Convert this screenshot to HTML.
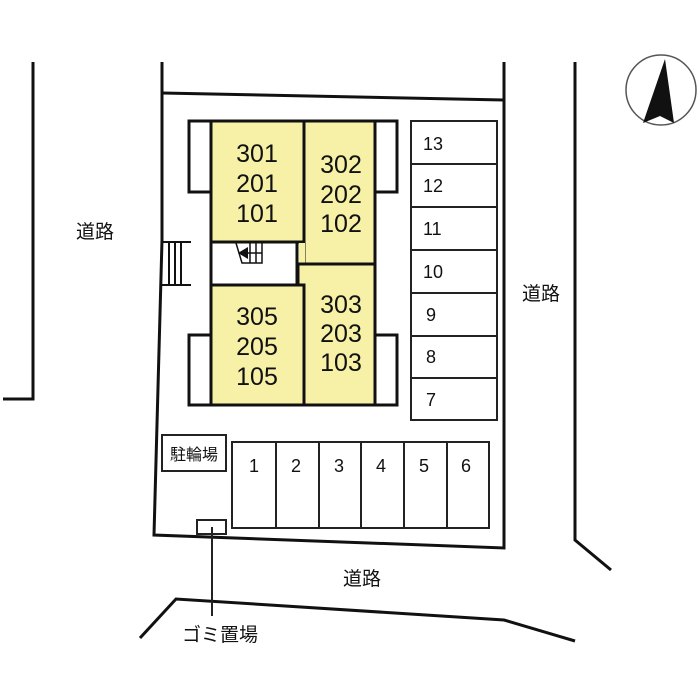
<!DOCTYPE html>
<html><head><meta charset="utf-8"><style>
html,body{margin:0;padding:0;background:#fff;}
svg{display:block;}
text{font-family:"Liberation Sans","Noto Sans CJK JP",sans-serif;fill:#111;}
.n{font-size:25px;text-anchor:middle;}
.p{font-size:18px;}
.j{font-size:19px;text-anchor:middle;}
</style></head><body>
<svg width="700" height="700" viewBox="0 0 700 700" xmlns="http://www.w3.org/2000/svg">
<g stroke="#111" stroke-width="3" fill="none">
<polyline points="33,62 33,399 3,399"/>
<polyline points="162,62 162,240 154,535 504,548 504,62"/>
<line x1="162" y1="93" x2="504" y2="100"/>
<polyline points="575,62 575,540 611,570"/>
<polyline points="140,638 176,599 504,620 575,641"/>
</g>
<g stroke="#111" stroke-width="3">
<rect x="189" y="121" width="22" height="71" fill="#fff"/>
<rect x="375" y="121" width="22" height="71" fill="#fff"/>
<rect x="189" y="335" width="22" height="70" fill="#fff"/>
<rect x="375" y="335" width="22" height="70" fill="#fff"/>
<rect x="211" y="121" width="93" height="121" fill="#f6f1a6"/>
<rect x="304" y="121" width="71" height="143" fill="#f6f1a6"/>
<rect x="298" y="264" width="77" height="141" fill="#f6f1a6"/>
<rect x="211" y="242" width="86" height="43" fill="#fff"/>
<rect x="211" y="285" width="93" height="120" fill="#f6f1a6"/>
</g>
<rect x="299" y="243" width="6" height="20" fill="#f6f1a6"/>
<line x1="298" y1="264" x2="375" y2="264" stroke="#111" stroke-width="3"/>
<g stroke="#111" stroke-width="1.5" fill="none">
<polyline points="236,243 242,263 262,263 262,243"/>
<line x1="250" y1="243" x2="250" y2="263"/><line x1="256" y1="243" x2="256" y2="263"/>
<line x1="242" y1="253" x2="262" y2="253"/>
</g>
<polygon points="238,253 248,247 248,259" fill="#111"/>
<g stroke="#111" stroke-width="2" fill="none">
<line x1="162" y1="242" x2="191" y2="242"/><line x1="162" y1="285" x2="191" y2="285"/>
<line x1="169" y1="242" x2="169" y2="285"/><line x1="175" y1="242" x2="175" y2="285"/><line x1="181" y1="242" x2="181" y2="285"/>
</g>
<text class="n" x="257" y="162">301</text><text class="n" x="257" y="192">201</text><text class="n" x="257" y="222">101</text>
<text class="n" x="341" y="173">302</text><text class="n" x="341" y="203">202</text><text class="n" x="341" y="232">102</text>
<text class="n" x="257" y="325">305</text><text class="n" x="257" y="355">205</text><text class="n" x="257" y="385">105</text>
<text class="n" x="341" y="313">303</text><text class="n" x="341" y="342">203</text><text class="n" x="341" y="371">103</text>
<g stroke="#222" stroke-width="2" fill="none">
<rect x="411" y="121" width="86" height="299"/>
<line x1="411" y1="164" x2="497" y2="164"/><line x1="411" y1="207" x2="497" y2="207"/>
<line x1="411" y1="250" x2="497" y2="250"/><line x1="411" y1="293" x2="497" y2="293"/>
<line x1="411" y1="336" x2="497" y2="336"/><line x1="411" y1="378" x2="497" y2="378"/>
</g>
<text class="p" x="423" y="150">13</text><text class="p" x="423" y="192">12</text><text class="p" x="423" y="235">11</text>
<text class="p" x="423" y="278">10</text><text class="p" x="426" y="321">9</text><text class="p" x="426" y="363">8</text><text class="p" x="426" y="406">7</text>
<g stroke="#222" stroke-width="2" fill="none">
<rect x="232" y="442" width="257" height="86"/>
<line x1="276" y1="442" x2="276" y2="528"/><line x1="319" y1="442" x2="319" y2="528"/>
<line x1="361" y1="442" x2="361" y2="528"/><line x1="404" y1="442" x2="404" y2="528"/>
<line x1="447" y1="442" x2="447" y2="528"/>
<rect x="162" y="435" width="64" height="36"/>
<rect x="197" y="520" width="29" height="14"/>
<line x1="212" y1="527" x2="212" y2="616"/>
</g>
<text class="p" x="249" y="472">1</text><text class="p" x="291" y="472">2</text><text class="p" x="334" y="472">3</text>
<text class="p" x="376" y="472">4</text><text class="p" x="419" y="472">5</text><text class="p" x="461" y="472">6</text>
<text x="194" y="460" style="font-size:16px;text-anchor:middle">駐輪場</text>
<text class="j" x="95" y="238">道路</text>
<text class="j" x="541" y="300">道路</text>
<text class="j" x="362" y="585">道路</text>
<text class="j" x="220" y="641">ゴミ置場</text>
<circle cx="661" cy="90" r="35" fill="#fff" stroke="#555" stroke-width="1.5"/>
<polygon points="665,59 643,123 660,116 674,123" fill="#111"/>
</svg>
</body></html>
